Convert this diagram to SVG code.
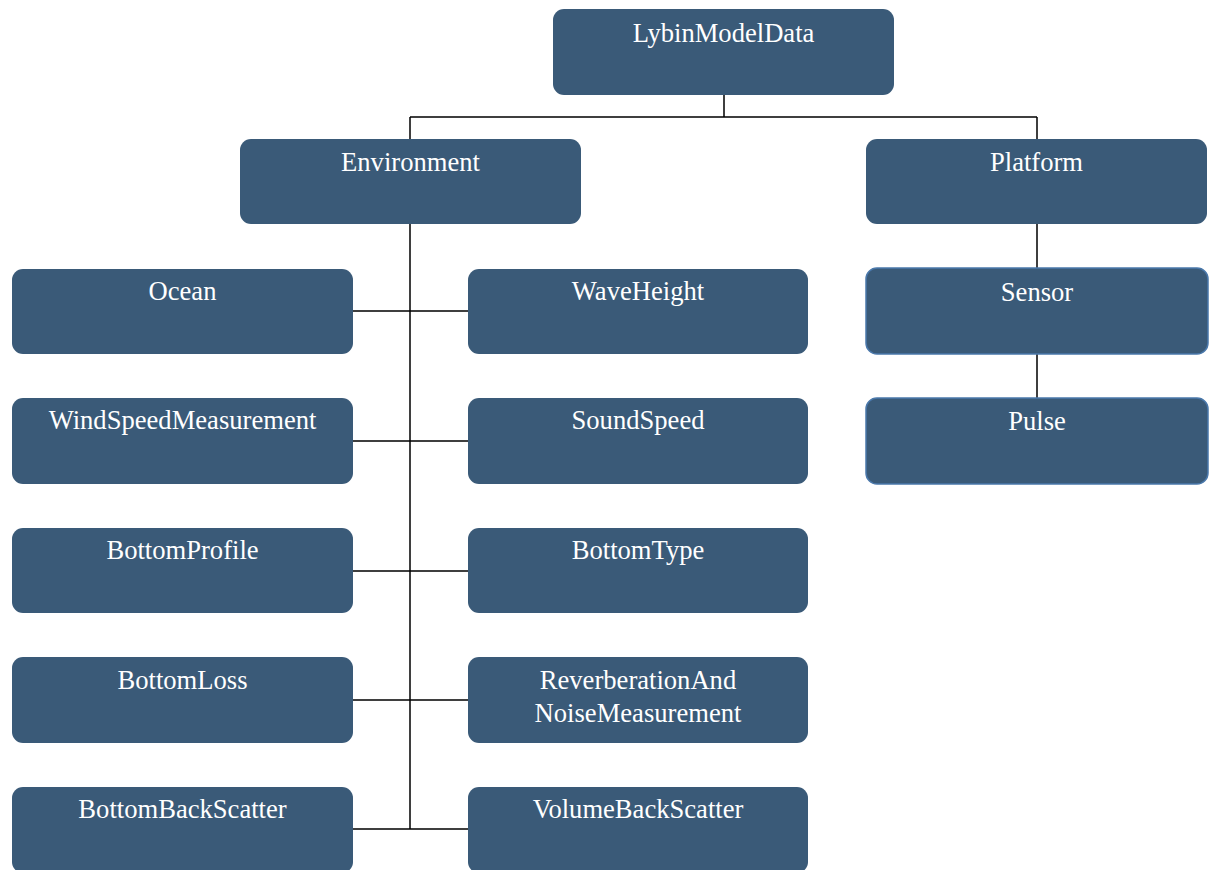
<svg xmlns="http://www.w3.org/2000/svg" width="1212" height="870" viewBox="0 0 1212 870">
<style>
.n{fill:#3a5a78;}
.nb{fill:#3a5a78;stroke:#4a78ab;stroke-width:1.5;}
.t{font-family:"Liberation Serif",serif;font-size:26.6px;fill:#ffffff;text-anchor:middle;}
.c{stroke:#000;stroke-width:1.5;fill:none;}
</style>
<rect width="1212" height="870" fill="#ffffff"/>
<g id="connectors">
<path class="c" d="M724 95V117M410 117H1037M410 117V139M1037 117V139"/>
<path class="c" d="M410 224V829M353 311H468M353 441H468M353 571H468M353 700H468M353 829H468"/>
<path class="c" d="M1037 224V268M1037 354V398"/>
</g>
<g id="LybinModelData"><rect class="n" x="553" y="9" width="341" height="86" rx="11"/><text class="t" x="723.5" y="42">LybinModelData</text></g>
<g id="Environment"><rect class="n" x="240" y="139" width="341" height="85" rx="11"/><text class="t" x="410.5" y="171">Environment</text></g>
<g id="Platform"><rect class="n" x="866" y="139" width="341" height="85" rx="11"/><text class="t" x="1036.5" y="171">Platform</text></g>
<g id="Sensor"><rect class="nb" x="866" y="268" width="342" height="86" rx="11"/><text class="t" x="1037" y="301">Sensor</text></g>
<g id="Pulse"><rect class="nb" x="866" y="398" width="342" height="86" rx="11"/><text class="t" x="1037" y="430">Pulse</text></g>
<g id="Ocean"><rect class="n" x="12" y="269" width="341" height="85" rx="11"/><text class="t" x="182.5" y="300">Ocean</text></g>
<g id="WaveHeight"><rect class="n" x="468" y="269" width="340" height="85" rx="11"/><text class="t" x="638" y="300">WaveHeight</text></g>
<g id="WindSpeedMeasurement"><rect class="n" x="12" y="398" width="341" height="86" rx="11"/><text class="t" x="182.5" y="429">WindSpeedMeasurement</text></g>
<g id="SoundSpeed"><rect class="n" x="468" y="398" width="340" height="86" rx="11"/><text class="t" x="638" y="429">SoundSpeed</text></g>
<g id="BottomProfile"><rect class="n" x="12" y="528" width="341" height="85" rx="11"/><text class="t" x="182.5" y="559">BottomProfile</text></g>
<g id="BottomType"><rect class="n" x="468" y="528" width="340" height="85" rx="11"/><text class="t" x="638" y="559">BottomType</text></g>
<g id="BottomLoss"><rect class="n" x="12" y="657" width="341" height="86" rx="11"/><text class="t" x="182.5" y="689">BottomLoss</text></g>
<g id="ReverberationAndNoiseMeasurement"><rect class="n" x="468" y="657" width="340" height="86" rx="11"/><text class="t" x="638" y="689">ReverberationAnd</text><text class="t" x="638" y="722">NoiseMeasurement</text></g>
<g id="BottomBackScatter"><rect class="n" x="12" y="787" width="341" height="86" rx="11"/><text class="t" x="182.5" y="818">BottomBackScatter</text></g>
<g id="VolumeBackScatter"><rect class="n" x="468" y="787" width="340" height="86" rx="11"/><text class="t" x="638" y="818">VolumeBackScatter</text></g>
</svg>
